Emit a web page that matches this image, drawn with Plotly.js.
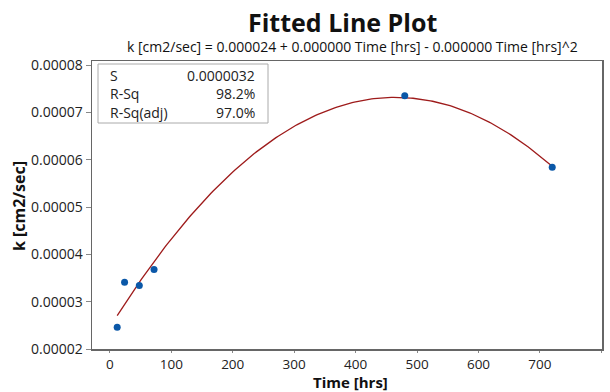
<!DOCTYPE html>
<html>
<head>
<meta charset="utf-8">
<script src="https://cdn.plot.ly/plotly-3.0.1.min.js"></script>
<style>html,body{margin:0;padding:0;background:#fff;}#chart{width:610px;height:392px;}</style>
</head>
<body>
<div id="chart"></div>
<script>
// Data
const timeHrs = [12, 24, 48, 72, 480, 720];
const kValues = [0.0000246, 0.0000341, 0.0000334, 0.0000368, 0.0000735, 0.0000584];
const xTicks = [0, 100, 200, 300, 400, 500, 600, 700, 800];
const yTicks = [0.00002, 0.00003, 0.00004, 0.00005, 0.00006, 0.00007, 0.00008];
const statLabels = ["S", "R-Sq", "R-Sq(adj)"];
const statValues = ["0.0000032", "98.2%", "97.0%"];
const titleText = "Fitted Line Plot";
const subtitleText = "k [cm2/sec] = 0.000024 + 0.000000 Time [hrs] - 0.000000 Time [hrs]^2";
const xTitle = "Time [hrs]";
const yTitle = "k [cm2/sec]";

// Quadratic least-squares fit of the data (regression line)
function quadFit(xs, ys) {
  let S = [0,0,0,0,0], T = [0,0,0];
  for (let i = 0; i < xs.length; i++) {
    let p = 1;
    for (let k = 0; k < 5; k++) { S[k] += p; if (k < 3) T[k] += p * ys[i]; p *= xs[i]; }
  }
  const A = [[S[0],S[1],S[2],T[0]],[S[1],S[2],S[3],T[1]],[S[2],S[3],S[4],T[2]]];
  for (let c = 0; c < 3; c++) {
    for (let r = c + 1; r < 3; r++) {
      const f = A[r][c] / A[c][c];
      for (let j = c; j < 4; j++) A[r][j] -= f * A[c][j];
    }
  }
  const b = [0,0,0];
  for (let r = 2; r >= 0; r--) {
    let s = A[r][3];
    for (let j = r + 1; j < 3; j++) s -= A[r][j] * b[j];
    b[r] = s / A[r][r];
  }
  return b;
}
const coef = quadFit(timeHrs, kValues);
const xMin = Math.min(...timeHrs), xMax = Math.max(...timeHrs);
const fitX = [], fitY = [];
for (let i = 0; i <= 200; i++) {
  const x = xMin + (xMax - xMin) * i / 200;
  fitX.push(x);
  fitY.push(coef[0] + coef[1] * x + coef[2] * x * x);
}

const font = "'Open Sans', 'Noto Sans', sans-serif";
const traces = [
  { x: fitX, y: fitY, type: 'scatter', mode: 'lines', line: { color: '#9E1B1B', width: 1.3 }, hoverinfo: 'skip' },
  { x: timeHrs, y: kValues, type: 'scatter', mode: 'markers', marker: { color: '#0B58A8', size: 7 } }
];

const W = 610, H = 392, ML = 92, MR = 8, MT = 61, MB = 43;
const plotW = W - ML - MR, plotH = H - MT - MB;
const px = x => (x - ML) / plotW;
const py = y => (H - MB - y) / plotH;

const annotations = [
  { text: '<b>' + titleText + '</b>', xref: 'paper', yref: 'paper', x: px(342), y: py(22), xanchor: 'center', yanchor: 'middle', showarrow: false, font: { family: font, size: 25, color: '#111' } },
  { text: subtitleText, xref: 'paper', yref: 'paper', x: px(352), y: py(47), xanchor: 'center', yanchor: 'middle', showarrow: false, font: { family: font, size: 14, color: '#111' } },
  { text: '<b>' + xTitle + '</b>', xref: 'paper', yref: 'paper', x: px(350), y: py(392), xanchor: 'center', yanchor: 'bottom', showarrow: false, borderpad: 0, yshift: -1, font: { family: font, size: 15, color: '#111' } },
  { text: '<b>' + yTitle + '</b>', xref: 'paper', yref: 'paper', x: px(19), y: py(206), xanchor: 'center', yanchor: 'middle', textangle: -90, showarrow: false, font: { family: font, size: 16, color: '#111' } }
];
statLabels.forEach((lab, i) => {
  annotations.push({ text: lab, xref: 'paper', yref: 'paper', x: px(108), y: py(75 + i * 18.5), xanchor: 'left', yanchor: 'middle', showarrow: false, font: { family: font, size: 14, color: '#222' } });
  annotations.push({ text: statValues[i], xref: 'paper', yref: 'paper', x: px(257), y: py(75 + i * 18.5), xanchor: 'right', yanchor: 'middle', showarrow: false, font: { family: font, size: 14, color: '#222' } });
});

const layout = {
  width: W, height: H,
  margin: { l: ML, r: MR, t: MT, b: MB },
  paper_bgcolor: '#fff', plot_bgcolor: '#fff',
  showlegend: false,
  font: { family: font, size: 14, color: '#222' },
  xaxis: {
    range: [-29, 801], tickvals: xTicks, ticktext: xTicks.map(String),
    showgrid: false, zeroline: false, showline: true, mirror: true,
    linecolor: '#666', linewidth: 1.5, ticks: 'outside', ticklen: 2, tickcolor: '#888',
    tickfont: { family: font, size: 13.5, color: '#222' }
  },
  yaxis: {
    range: [0.0000200, 0.00008085], tickvals: yTicks, ticktext: yTicks.map(v => v.toFixed(5)),
    showgrid: false, zeroline: false, showline: true, mirror: true,
    linecolor: '#666', linewidth: 1.5, ticks: 'outside', ticklen: 5, tickcolor: '#888',
    tickfont: { family: font, size: 14, color: '#222' }
  },
  shapes: [
    { type: 'rect', xref: 'paper', yref: 'paper', x0: px(98), x1: px(268), y0: py(123), y1: py(64),
      line: { color: '#aaa', width: 1 }, fillcolor: 'rgba(0,0,0,0)' }
  ],
  annotations: annotations
};

Plotly.newPlot('chart', traces, layout, { displayModeBar: false, staticPlot: true });
</script>
</body>
</html>
